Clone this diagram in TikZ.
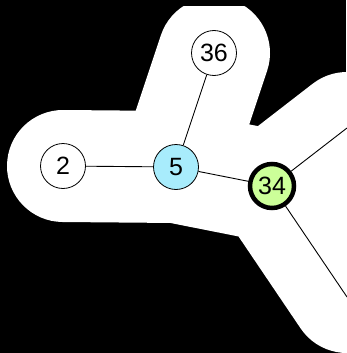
\documentclass[tikz,border=0pt]{standalone}
\usepackage{fontspec}
\setmainfont{Liberation Sans}
\definecolor{nodecyan}{RGB}{168,236,252}
\definecolor{nodegreen}{RGB}{204,255,153}
\begin{document}
\begin{tikzpicture}[x=1pt,y=-1pt,
  vtx/.style={circle,draw=black,line width=0.8pt,minimum size=45pt,inner sep=0pt,font=\fontsize{25}{25}\selectfont},
  link/.style={draw=black,line width=0.9pt},
  halo/.style={draw=white,line width=112pt,line cap=round,line join=round}]
\fill[black] (0,0) rectangle (346,353);
\useasboundingbox (0,0) rectangle (346,353);
\coordinate (c2) at (63,166);
\coordinate (c5) at (176,167);
\coordinate (c36) at (214,53);
\coordinate (c34) at (272,186);
\coordinate (e1) at (347,128);
\coordinate (e2) at (347,297);
\begin{scope}
\clip (0,7) rectangle (346,353);
\draw[halo] (c2) -- (c5) -- (c34) -- (e1) (c5) -- (c36) (c34) -- (e2);
\end{scope}
\node[vtx,fill=white] (n2) at (c2) {2};
\node[vtx,fill=nodecyan] (n5) at (c5) {5};
\node[vtx,fill=white] (n36) at (c36) {36};
\node[vtx,fill=nodegreen,line width=4.5pt,minimum size=44pt] (n34) at (c34) {34};
\draw[link] (n2) -- (n5);
\draw[link] (n5) -- (n36);
\draw[link] (n5) -- (n34);
\draw[link] (n34) -- (e1);
\draw[link] (n34) -- (e2);
\end{tikzpicture}
\end{document}
